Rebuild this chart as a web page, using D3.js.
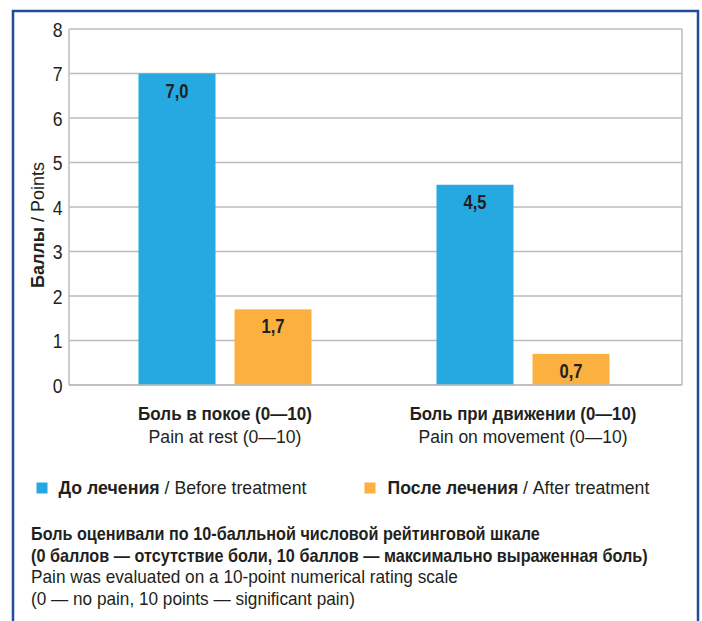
<!DOCTYPE html>
<html>
<head>
<meta charset="utf-8">
<script src="https://cdn.jsdelivr.net/npm/d3@7/dist/d3.min.js"></script>
<style>
  body { margin: 0; background: #fff; }
  svg { display: block; }
  text { font-family: 'Liberation Sans', Arial, sans-serif; fill: #231f20; }
</style>
</head>
<body>
<svg id="chart" width="702" height="621"></svg>
<script>
// chart data
const categoriesRu = ['Боль в покое (0—10)', 'Боль при движении (0—10)'];
const categoriesEn = ['Pain at rest (0—10)', 'Pain on movement (0—10)'];
const seriesNames = ['before', 'after'];
const seriesRu = ['До лечения', 'После лечения'];
const seriesEn = ['Before treatment', 'After treatment'];
const beforeValues = [7.0, 4.5];
const afterValues = [1.7, 0.7];
const yTicks = [0, 1, 2, 3, 4, 5, 6, 7, 8];
const footnote = [
  ['Боль оценивали по 10-балльной числовой рейтинговой шкале', true],
  ['(0 баллов — отсутствие боли, 10 баллов — максимально выраженная боль)', true],
  ['Pain was evaluated on a 10-point numerical rating scale', false],
  ['(0 — no pain, 10 points — significant pain)', false]
];

const colors = { before: '#25a9e0', after: '#fbb040' };
const svg = d3.select('#chart');

// the original font is a condensed one: squeeze each text horizontally
// to the width it has in the picture
function squeeze(node, w, prefix) {
  const t = d3.select(node);
  const x = +t.attr('x') || 0, yy = +t.attr('y') || 0;
  const k = w / node.getComputedTextLength();
  t.attr('x', null).attr('y', null)
    .attr('transform', `${prefix || ''} translate(${x},${yy}) scale(${k},1)`);
}

// outer blue frame, open at the bottom
svg.append('path')
  .attr('d', 'M13,621 V11 H698 V621')
  .attr('fill', 'none')
  .attr('stroke', '#1f4e96')
  .attr('stroke-width', 2.5);

const plot = { left: 69, right: 682, top: 29, bottom: 385 };

const y = d3.scaleLinear().domain([0, 8]).range([plot.bottom, plot.top]);
const x0 = d3.scaleBand().domain(d3.range(categoriesRu.length)).range([76, 672]);
const x1 = d3.scaleBand().domain(seriesNames).range([0, 173]).paddingInner(0.198);

// grid lines
svg.append('g').selectAll('line')
  .data(yTicks)
  .join('line')
  .attr('x1', plot.left).attr('x2', plot.right)
  .attr('y1', d => y(d)).attr('y2', d => y(d))
  .attr('stroke', '#bdbdbd')
  .attr('stroke-width', 1.5);

// plot side borders
svg.append('g').selectAll('line')
  .data([plot.left, plot.right])
  .join('line')
  .attr('x1', d => d).attr('x2', d => d)
  .attr('y1', plot.top).attr('y2', plot.bottom)
  .attr('stroke', '#bdbdbd')
  .attr('stroke-width', 1.5);

// y tick labels
svg.append('g').selectAll('text')
  .data(yTicks)
  .join('text')
  .attr('x', 62.5)
  .attr('y', d => y(d) + 7.5)
  .attr('text-anchor', 'end')
  .style('font-size', '20.5px')
  .text(d => d)
  .each(function () { squeeze(this, 9.8); });

// y axis title
const yTitle = svg.append('text')
  .attr('text-anchor', 'middle')
  .style('font-size', '18px');
yTitle.append('tspan').style('font-weight', 'bold').text('Баллы');
yTitle.append('tspan').text(' / Points');
squeeze(yTitle.node(), 126, 'translate(43.5,225) rotate(-90)');

// bars
const rows = categoriesRu.map((c, i) => ({ i, before: beforeValues[i], after: afterValues[i] }));
const groups = svg.append('g').selectAll('g')
  .data(rows)
  .join('g')
  .attr('transform', d => `translate(${x0(d.i) + x0.bandwidth() / 2 - 86.5},0)`);

const bars = groups.selectAll('g')
  .data(d => seriesNames.map(k => ({ key: k, value: d[k] })))
  .join('g');

bars.append('rect')
  .attr('x', d => x1(d.key))
  .attr('width', x1.bandwidth())
  .attr('y', d => y(d.value))
  .attr('height', d => y(0) - y(d.value))
  .attr('fill', d => colors[d.key]);

bars.append('text')
  .attr('x', d => x1(d.key) + x1.bandwidth() / 2)
  .attr('y', d => y(d.value) + 24)
  .attr('text-anchor', 'middle')
  .style('font-size', '19.5px')
  .style('font-weight', 'bold')
  .text(d => d.value.toFixed(1).replace('.', ','))
  .each(function () { squeeze(this, 23); });

// redraw the baseline over the bars
svg.append('line')
  .attr('x1', plot.left).attr('x2', plot.right)
  .attr('y1', y(0)).attr('y2', y(0))
  .attr('stroke', '#bdbdbd')
  .attr('stroke-width', 1.5);

// category labels
const catRuW = [174, 227];
const catEnW = [153, 209];
const cat = svg.append('g').selectAll('g')
  .data(d3.range(categoriesRu.length))
  .join('g')
  .attr('transform', i => `translate(${x0(i) + x0.bandwidth() / 2},0)`);
cat.append('text')
  .attr('y', 420)
  .attr('text-anchor', 'middle')
  .style('font-size', '18.5px')
  .style('font-weight', 'bold')
  .text(i => categoriesRu[i])
  .each(function (i) { squeeze(this, catRuW[i]); });
cat.append('text')
  .attr('y', 442.5)
  .attr('text-anchor', 'middle')
  .style('font-size', '18.5px')
  .text(i => categoriesEn[i])
  .each(function (i) { squeeze(this, catEnW[i]); });

// legend
const legendX = [36.5, 364.5];
const legendW = [248, 262];
const legend = svg.append('g').selectAll('g')
  .data(seriesNames)
  .join('g')
  .attr('transform', (d, i) => `translate(${legendX[i]},482.5)`);
legend.append('rect')
  .attr('width', 11).attr('height', 11)
  .attr('fill', d => colors[d]);
const lt = legend.append('text')
  .attr('x', (d, i) => i === 0 ? 22 : 23)
  .attr('y', 11)
  .style('font-size', '18px');
lt.append('tspan').style('font-weight', 'bold').text((d, i) => seriesRu[i]);
lt.append('tspan').text((d, i) => ' / ' + seriesEn[i]);
lt.each(function (d, i) { squeeze(this, legendW[i]); });

// footnote
const footW = [509, 617, 427, 324];
svg.append('g').selectAll('text')
  .data(footnote)
  .join('text')
  .attr('x', 31)
  .attr('y', (d, i) => 540 + i * 21.7)
  .style('font-size', '18px')
  .style('font-weight', d => d[1] ? 'bold' : 'normal')
  .text(d => d[0])
  .each(function (d, i) { squeeze(this, footW[i]); });
</script>
</body>
</html>
